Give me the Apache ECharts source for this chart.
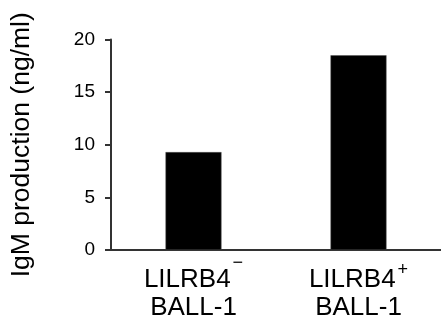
<!DOCTYPE html>
<html>
<head>
<meta charset="utf-8">
<script src="https://cdn.jsdelivr.net/npm/echarts@6/dist/echarts.min.js"></script>
<style>
html,body{margin:0;padding:0;background:#fff;}
#c{width:441px;height:324px;}
</style>
</head>
<body>
<div id="c"></div>
<script>
const catNames = ['LILRB4', 'LILRB4'];
const catSups = ['\u2212', '+'];
const catLine2 = ['BALL-1', 'BALL-1'];
const categories = catNames.map((n, i) => n + catSups[i] + '\n' + catLine2[i]);
const values = [9.3, 18.5];
const yTicks = [0, 5, 10, 15, 20];
const yTitle = 'IgM production (ng/ml)';

const chart = echarts.init(document.getElementById('c'), null, {renderer: 'canvas'});
const font = '"Liberation Sans", Arial, sans-serif';
const base = {fontFamily: font, color: '#000'};
chart.setOption({
  animation: false,
  backgroundColor: '#fff',
  grid: {left: 111, right: -3, top: 39.5, bottom: 74, containLabel: false},
  xAxis: {
    type: 'category',
    data: categories,
    axisLine: {show: true, lineStyle: {color: '#333', width: 2}},
    axisTick: {show: false},
    axisLabel: {
      interval: 0,
      margin: 1,
      formatter: function (v, i) {
        const supStyle = catSups[i] === '+' ? 'sp' : 'sm';
        return '{a|' + catNames[i] + '}{t| }{' + supStyle + '|' + catSups[i] + '}\n{b|' + catLine2[i] + '}';
      },
      rich: {
        a: Object.assign({fontSize: 26, lineHeight: 30, verticalAlign: 'bottom'}, base),
        t: Object.assign({fontSize: 2, lineHeight: 42, width: 2, verticalAlign: 'top'}, base),
        b: Object.assign({fontSize: 26, lineHeight: 30}, base),
        sm: Object.assign({fontSize: 18, lineHeight: 10, verticalAlign: 'top', padding: [3, 0, 0, 0]}, base),
        sp: Object.assign({fontSize: 18, lineHeight: 10, verticalAlign: 'top', padding: [10, 0, 0, 0]}, base)
      }
    },
    splitLine: {show: false}
  },
  yAxis: {
    type: 'value',
    min: yTicks[0], max: yTicks[yTicks.length - 1], interval: 5,
    name: yTitle,
    nameLocation: 'middle',
    nameGap: 76,
    nameRotate: 90,
    nameTextStyle: {color: '#000', fontFamily: font, fontSize: 26.5},
    axisLine: {show: true, lineStyle: {color: '#333', width: 2}},
    axisTick: {show: true, inside: false, length: 6, lineStyle: {color: '#333', width: 2}},
    axisLabel: {color: '#000', fontFamily: font, fontSize: 19, margin: 16},
    splitLine: {show: false}
  },
  series: [{
    type: 'bar',
    data: values,
    barWidth: 56,
    itemStyle: {color: '#000', borderColor: '#555', borderWidth: 0.5}
  }]
});
</script>
</body>
</html>
